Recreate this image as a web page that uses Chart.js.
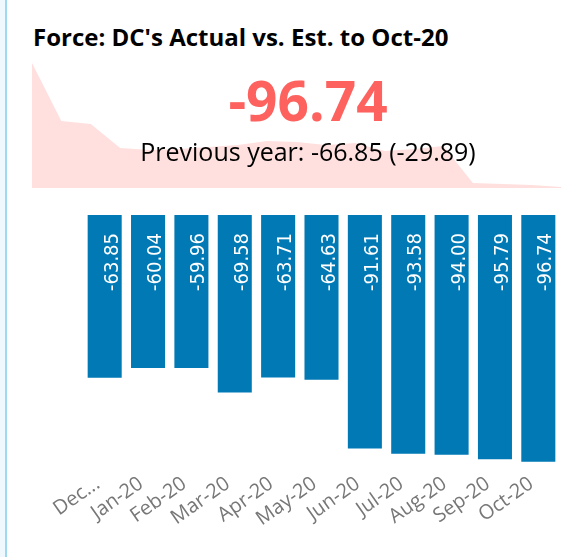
<!DOCTYPE html>
<html>
<head>
<meta charset="utf-8">
<script src="https://cdn.jsdelivr.net/npm/chart.js@4.4.0/dist/chart.umd.min.js"></script>
<style>
body { margin: 0; width: 561px; height: 557px; overflow: hidden; background: #fff; position: relative; font-family: 'Open Sans', sans-serif; }
#edge { position: absolute; left: 0; top: 0; width: 5px; height: 557px; background: #eff8fc; }
#edgeLine { position: absolute; left: 5px; top: 0; width: 2px; height: 557px; background: #9dd9ef; }
#title { position: absolute; left: 33px; top: 25px; font-size: 24px; font-weight: bold; line-height: 1; color: #000; white-space: nowrap; }
#sparkBox { position: absolute; left: 32px; top: 63px; width: 529px; height: 125px; }
#kpi { position: absolute; left: 308px; top: 72px; transform: translateX(-50%); font-size: 55px; font-weight: bold; line-height: 1; color: #fd625e; white-space: nowrap; }
#prev { position: absolute; left: 308px; top: 139px; transform: translateX(-50%); font-size: 25px; line-height: 1; color: #000; white-space: nowrap; }
#barBox { position: absolute; left: 0; top: 195px; width: 561px; height: 362px; }
</style>
</head>
<body>
<div id="edge"></div>
<div id="edgeLine"></div>
<div id="sparkBox"><canvas id="spark" width="529" height="125"></canvas></div>
<div id="title">Force: DC's Actual vs. Est. to Oct-20</div>
<div id="kpi">-96.74</div>
<div id="prev">Previous year: -66.85 (-29.89)</div>
<div id="barBox"><canvas id="bars" width="561" height="362"></canvas></div>
<script>
// monthly actual vs est.
var months = ['Dec...', 'Jan-20', 'Feb-20', 'Mar-20', 'Apr-20', 'May-20', 'Jun-20', 'Jul-20', 'Aug-20', 'Sep-20', 'Oct-20'];
var actualVsEst = [-63.85, -60.04, -59.96, -69.58, -63.71, -64.63, -91.61, -93.58, -94.00, -95.79, -96.74];

// trend behind the KPI (relative height)
var sparkValues = [125, 67, 64, 40, 38, 39, 41, 43, 47, 46, 43, 45, 37, 39, 42, 5, 4, 3, 1];
var sparkPeriods = sparkValues.map(function (v, i) { return i + 1; });

var spark = new Chart(document.getElementById('spark'), {
    type: 'line',
    data: {
        labels: sparkPeriods,
        datasets: [{
            data: sparkValues,
            fill: 'origin',
            backgroundColor: 'rgba(253, 98, 94, 0.2)',
            borderColor: 'transparent',
            borderWidth: 0,
            pointRadius: 0,
            tension: 0
        }]
    },
    options: {
        responsive: false,
        animation: false,
        layout: { padding: 0 },
        scales: {
            x: { display: false },
            y: { display: false, min: 0, max: 125 }
        },
        plugins: { legend: { display: false }, tooltip: { enabled: false } }
    }
});

var barValueLabels = {
    id: 'barValueLabels',
    afterDatasetsDraw: function (chart) {
        var ctx = chart.ctx;
        var meta = chart.getDatasetMeta(0);
        ctx.save();
        ctx.fillStyle = '#ffffff';
        ctx.font = '20px "DejaVu Sans Condensed"';
        ctx.textAlign = 'right';
        ctx.textBaseline = 'alphabetic';
        meta.data.forEach(function (bar, i) {
            ctx.save();
            ctx.translate(bar.x + 13, bar.base + 18);
            ctx.rotate(-Math.PI / 2);
            ctx.fillText(actualVsEst[i].toFixed(2), 0, 0);
            ctx.restore();
        });
        ctx.restore();
    }
};

var barChart = new Chart(document.getElementById('bars'), {
    type: 'bar',
    data: {
        labels: months,
        datasets: [{
            data: actualVsEst,
            backgroundColor: '#0179b5',
            barPercentage: 0.785,
            categoryPercentage: 1
        }]
    },
    options: {
        responsive: false,
        animation: false,
        layout: { padding: { left: 83, right: 1, top: 20, bottom: 0 } },
        scales: {
            x: {
                grid: { display: false, drawTicks: false },
                border: { display: false },
                ticks: {
                    color: '#777777',
                    font: { family: 'Open Sans', size: 20 },
                    minRotation: 35,
                    maxRotation: 35,
                    autoSkip: false,
                    padding: 2,
                    labelOffset: -7
                },
                afterFit: function (s) {
                    s.height = 87;
                    s.paddingLeft = 0;
                    s.paddingRight = 0;
                }
            },
            y: { display: false, min: -100, max: 0 }
        },
        plugins: { legend: { display: false }, tooltip: { enabled: false } }
    },
    plugins: [barValueLabels]
});
</script>
</body>
</html>
